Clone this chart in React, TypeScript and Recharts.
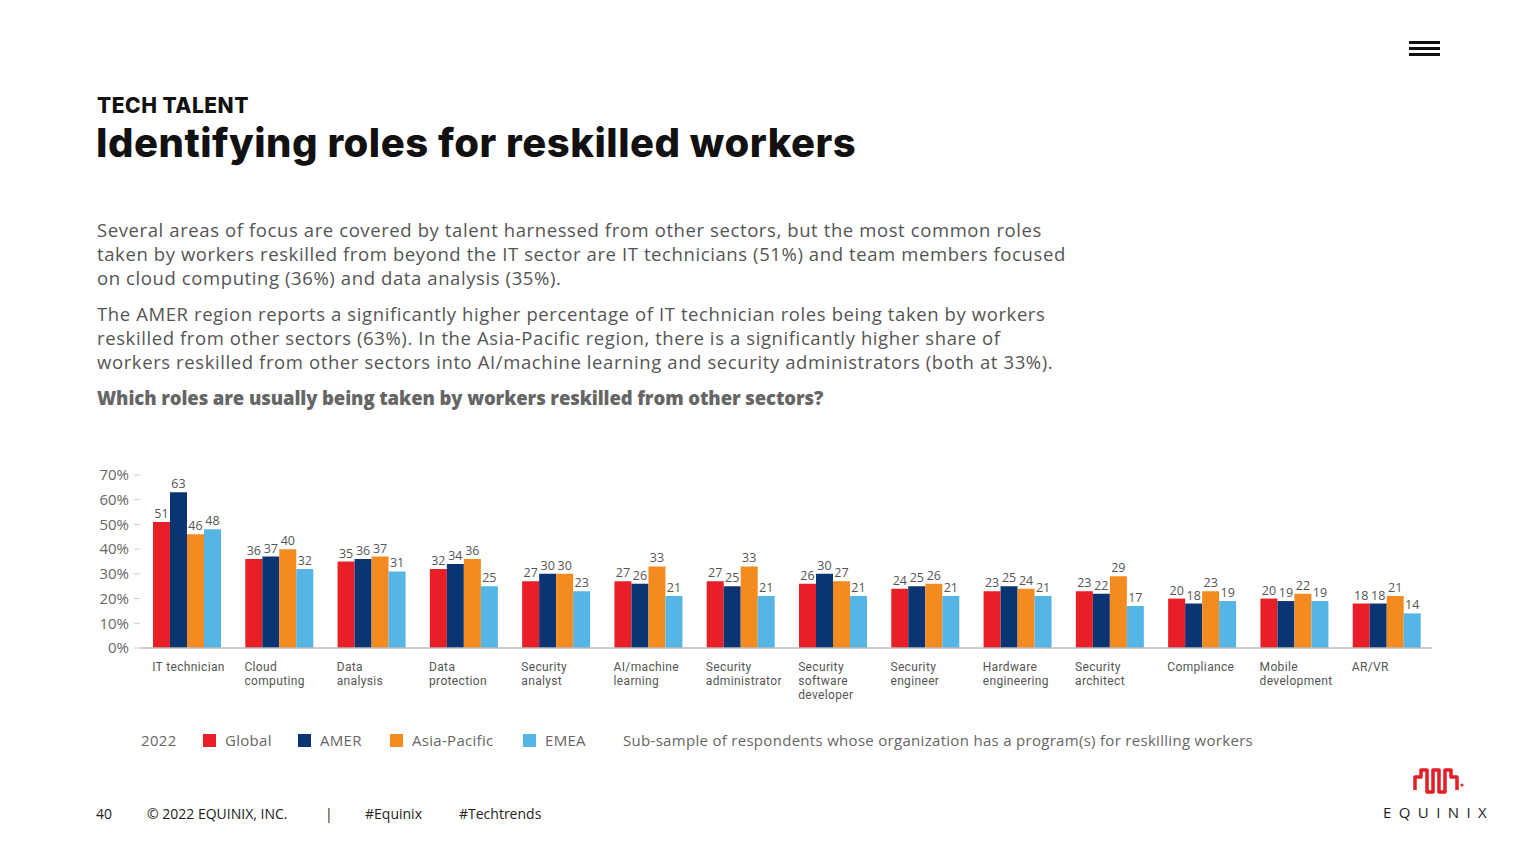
import { BarChart, Bar, XAxis, YAxis, LabelList } from 'recharts';

const roles = [
  'IT technician',
  'Cloud\ncomputing',
  'Data\nanalysis',
  'Data\nprotection',
  'Security\nanalyst',
  'AI/machine\nlearning',
  'Security\nadministrator',
  'Security\nsoftware\ndeveloper',
  'Security\nengineer',
  'Hardware\nengineering',
  'Security\narchitect',
  'Compliance',
  'Mobile\ndevelopment',
  'AR/VR',
];

const globalValues = [51, 36, 35, 32, 27, 27, 27, 26, 24, 23, 23, 20, 20, 18];
const amerValues = [63, 37, 36, 34, 30, 26, 25, 30, 25, 25, 22, 18, 19, 18];
const apacValues = [46, 40, 37, 36, 30, 33, 33, 27, 26, 24, 29, 23, 22, 21];
const emeaValues = [48, 32, 31, 25, 23, 21, 21, 21, 21, 21, 17, 19, 19, 14];

const yTicks = [0, 10, 20, 30, 40, 50, 60, 70];

const series = [
  { key: 'global', name: 'Global', color: '#e81f27', left: 203 },
  { key: 'amer', name: 'AMER', color: '#0b3572', left: 298 },
  { key: 'apac', name: 'Asia-Pacific', color: '#f38b21', left: 390 },
  { key: 'emea', name: 'EMEA', color: '#55b6e6', left: 523 },
];

const chartData = roles.map((role, i) => ({
  role,
  global: globalValues[i],
  amer: amerValues[i],
  apac: apacValues[i],
  emea: emeaValues[i],
}));

const FONT = '"Open Sans", Lato, sans-serif';

const RoleTick = (props: any) => {
  const { x, y, payload } = props;
  const lines = String(payload.value).split('\n');
  return (
    <g>
      {lines.map((line, i) => (
        <text
          key={i}
          x={x - 34}
          y={y + 15 + i * 14.2}
          fill="#555"
          fontSize={12}
          fontFamily="Roboto, sans-serif"
          letterSpacing={0.35}
          textAnchor="start"
        >
          {line}
        </text>
      ))}
    </g>
  );
};

export default function App() {
  const para: React.CSSProperties = {
    margin: 0,
    position: 'absolute',
    left: 97,
    fontFamily: FONT,
    fontSize: 18.5,
    letterSpacing: 0.6,
    lineHeight: '24px',
    color: '#555',
    whiteSpace: 'nowrap',
  };
  return (
    <div style={{ position: 'absolute', left: 0, top: 0, width: 1536, height: 864, background: '#fff', fontFamily: FONT }}>
      {/* menu icon */}
      <div style={{ position: 'absolute', left: 1409, top: 41, width: 31 }}>
        {[0, 1, 2].map((i) => (
          <div key={i} style={{ height: 2.5, background: '#111', marginBottom: 3.5 }} />
        ))}
      </div>

      <div style={{ position: 'absolute', left: 97, top: 93, fontFamily: 'Inter, sans-serif', fontWeight: 800, fontSize: 21, letterSpacing: 0.5, color: '#111' }}>
        TECH TALENT
      </div>
      <div style={{ position: 'absolute', left: 96, top: 118, fontFamily: 'Inter, sans-serif', fontWeight: 800, fontSize: 40, color: '#111', letterSpacing: 0.52 }}>
        Identifying roles for reskilled workers
      </div>

      <p style={{ ...para, top: 218 }}>
        Several areas of focus are covered by talent harnessed from other sectors, but the most common roles
        <br />
        taken by workers reskilled from beyond the IT sector are IT technicians (51%) and team members focused
        <br />
        on cloud computing (36%) and data analysis (35%).
      </p>
      <p style={{ ...para, top: 302 }}>
        The AMER region reports a significantly higher percentage of IT technician roles being taken by workers
        <br />
        reskilled from other sectors (63%). In the Asia-Pacific region, there is a significantly higher share of
        <br />
        workers reskilled from other sectors into AI/machine learning and security administrators (both at 33%).
      </p>
      <p style={{ ...para, top: 386, fontWeight: 800, color: '#666', letterSpacing: -0.1 }}>
        Which roles are usually being taken by workers reskilled from other sectors?
      </p>

      <div style={{ position: 'absolute', left: 90, top: 460 }}>
        <BarChart
          width={1360}
          height={250}
          data={chartData}
          margin={{ top: 15, right: 18, bottom: 0, left: 0 }}
          barCategoryGap={13}
          barGap={0}
        >
          <XAxis
            dataKey="role"
            interval={0}
            height={62}
            tickLine={false}
            axisLine={{ stroke: '#bbb', strokeWidth: 1.5 }}
            tick={<RoleTick />}
          />
          <YAxis
            width={50}
            domain={[0, 70]}
            ticks={yTicks}
            axisLine={false}
            tickLine={{ stroke: '#ccc' }}
            tickSize={6}
            tickMargin={5}
            tickFormatter={(v) => `${v}%`}
            tick={{ fill: '#666', fontSize: 15, fontFamily: FONT }}
          />
          {series.map((s) => (
            <Bar key={s.key} dataKey={s.key} name={s.name} fill={s.color} isAnimationActive={false}>
              <LabelList dataKey={s.key} position="top" offset={4} fill="#555" fontSize={12.5} fontFamily={FONT} />
            </Bar>
          ))}
        </BarChart>
      </div>

      {/* legend */}
      <div style={{ position: 'absolute', left: 0, top: 730, fontSize: 15, letterSpacing: 0.3, color: '#666', whiteSpace: 'nowrap', lineHeight: '20px' }}>
        <span style={{ position: 'absolute', left: 141 }}>2022</span>
        {series.map((s) => (
          <span key={s.key} style={{ position: 'absolute', left: s.left, display: 'flex', alignItems: 'center' }}>
            <span style={{ width: 13, height: 13, background: s.color, marginRight: 9 }} />
            {s.name}
          </span>
        ))}
        <span style={{ position: 'absolute', left: 623 }}>
          Sub-sample of respondents whose organization has a program(s) for reskilling workers
        </span>
      </div>

      {/* footer */}
      <div style={{ position: 'absolute', top: 804, left: 0, fontSize: 14, color: '#222', fontFamily: FONT }}>
        <span style={{ position: 'absolute', left: 96 }}>40</span>
        <span style={{ position: 'absolute', left: 147, whiteSpace: 'nowrap' }}>© 2022 EQUINIX, INC.</span>
        <span style={{ position: 'absolute', left: 325 }}>|</span>
        <span style={{ position: 'absolute', left: 365 }}>#Equinix</span>
        <span style={{ position: 'absolute', left: 459 }}>#Techtrends</span>
      </div>

      {/* logo */}
      <svg style={{ position: 'absolute', left: 1405, top: 764 }} width={70} height={36}>
        <polyline
          points="10,26 10,13 16,13 16,6 22,6 22,28 28,28 28,6 34,6 34,28 40,28 40,6 46,6 46,13 52,13 52,26"
          fill="none"
          stroke="#e31e26"
          strokeWidth={3.5}
          strokeLinejoin="round"
        />
        <circle cx={57} cy={21} r={1.5} fill="#e31e26" />
      </svg>
      <div style={{ position: 'absolute', left: 1383, top: 802, fontSize: 15, letterSpacing: 7.4, color: '#222', fontFamily: FONT }}>
        EQUINIX
      </div>
    </div>
  );
}
